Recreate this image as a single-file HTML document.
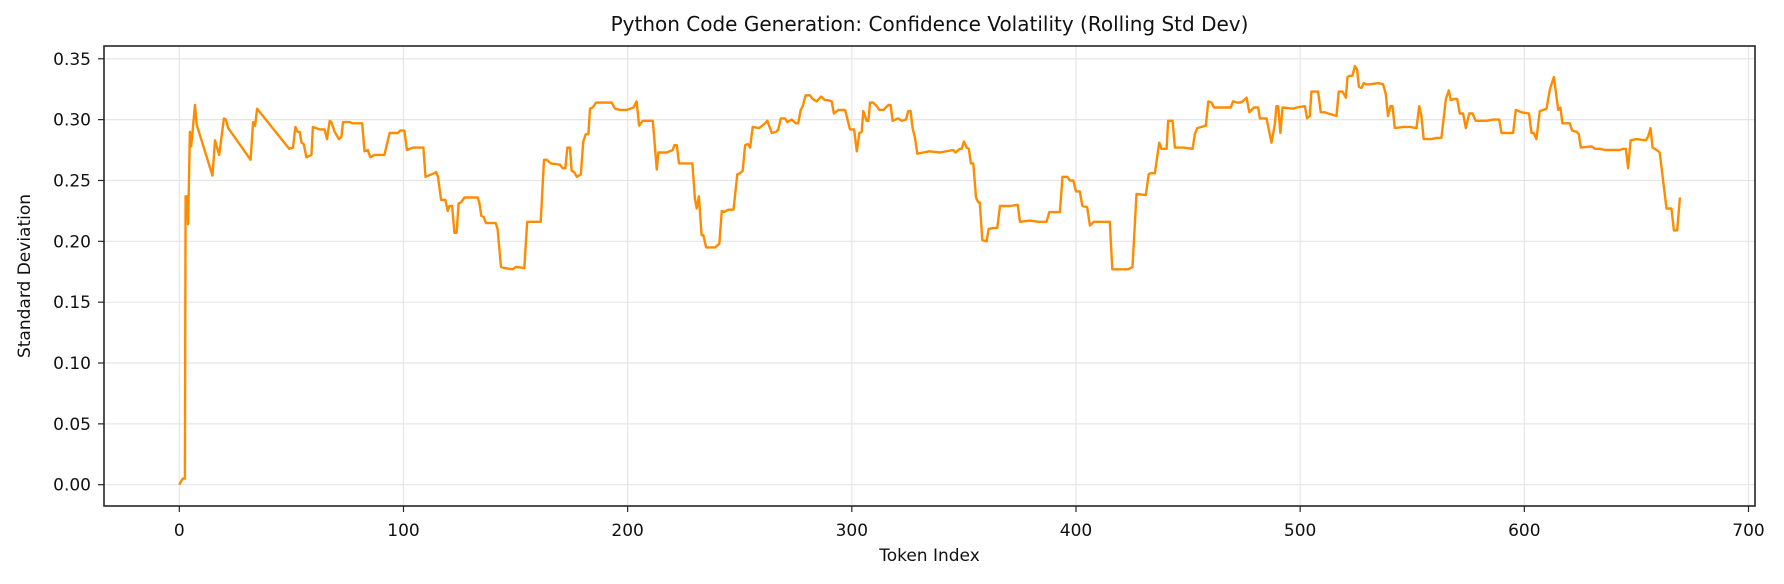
<!DOCTYPE html>
<html><head><meta charset="utf-8">
<style>
html,body{margin:0;padding:0;background:#fff;}
svg{display:block;font-family:"DejaVu Sans","Liberation Sans",sans-serif;}
</style></head>
<body>
<svg id="chart" width="1784" height="584" viewBox="0 0 1784 584" xmlns="http://www.w3.org/2000/svg">
<rect width="1784" height="584" fill="#fff"/>
<g id="grid"></g>
<g id="series"></g>
<rect x="104" y="46" width="1651" height="460" fill="none" stroke="#262626" stroke-width="1.6"/>
<g id="ticks"></g>
<text x="929.5" y="31" text-anchor="middle" font-size="20" fill="#111">Python Code Generation: Confidence Volatility (Rolling Std Dev)</text>
<text x="929.5" y="561" text-anchor="middle" font-size="17" fill="#111">Token Index</text>
<text x="0" y="0" transform="translate(30,276) rotate(-90)" text-anchor="middle" font-size="17" fill="#111">Standard Deviation</text>
</svg>
<script>
const tokens = [0,1.5,2.5,2.8,3.6,3.9,4.7,5.3,5.9,7.0,7.7,14.8,15.9,17.8,19.9,20.8,21.8,31.8,32.9,33.8,34.7,49.0,50.7,51.8,52.7,53.7,54.5,55.5,56.7,58.9,59.6,62.6,64.8,65.9,67.1,67.8,69.3,71.2,72.3,73.0,76.0,77.2,81.6,82.6,84.1,85.2,87.1,91.5,93.8,97.5,98.5,100.4,101.5,104.2,108.9,109.8,113.8,114.5,115.4,116.8,118.7,119.7,120.5,121.7,122.7,123.7,124.6,125.6,127.2,133.1,133.8,134.7,135.8,136.8,141.2,142.0,143.5,145.0,148.7,150.2,153.9,155.2,157.2,161.2,162.7,163.9,165.7,169.8,171.0,172.2,173.1,174.3,175,176.1,177.3,179.1,180.2,181.3,182.5,183.2,184.4,185.9,187.7,192.9,194.4,196.6,199.6,202.6,204,205.1,206.7,208.5,211.2,213,213.7,217.4,220.1,220.8,221.9,222.9,228.9,230,230.8,231.8,233,233.8,235,239,240.9,242,243,244.9,247.2,248.9,250.1,251.3,252.4,253.6,254.6,255.8,258.7,261.3,262.3,264.3,266.2,267.2,268.3,270.2,271.2,273.2,275.1,276.1,277.2,278.1,279.4,281.3,282.5,284.3,286.3,288,289.5,291,292,294,297,299.2,301,302.2,303.4,304.4,305.1,306.6,307.4,308.1,309.6,311.1,312.3,314.1,316.3,317.3,318.2,320.7,322.2,324.1,325.2,326.2,327.1,328.2,329.2,331.9,334.5,339.3,345.2,346.3,348.2,349,350,351.2,352.2,353.1,354.2,355.4,356.4,357.1,358.2,360.1,361,363.1,364.9,366.1,368.3,370.5,374,375,379.4,383.2,386.9,388.1,392.8,394,396.1,397.3,398.8,400,401.7,402.8,405,406.2,408,410.7,415.1,416.2,423.3,425.2,427,431.2,432.4,433.3,435.2,437.1,438.2,440.4,441.1,443.1,444.1,447.8,452,453,454.1,456,457.9,459,460.5,461.5,462.4,469,470.1,471.9,473.1,474.3,476.1,477.3,479.4,481.3,482,485,487.2,488.7,489.4,490.2,491.2,492.1,496.9,498.4,502.1,503.1,504.3,505,508,509.2,511,512.5,516.2,517.2,518.9,520.4,521.1,522.1,523.3,524.4,525.4,526.2,527.3,528.4,529.3,531.1,534.8,537,538.2,539.2,540.3,541.2,542.2,545.9,548.9,551.9,553.1,554.1,555.1,558.6,560.8,563,565,566.3,567.2,568.7,570,571.2,572.7,573.9,575.4,576.9,578.3,583.1,586.1,588.8,589.8,592.8,595,596.2,598.7,602.1,603.2,604.2,605.4,606.9,609.9,611.4,613.2,615.1,616.1,617,620.3,621.3,623.3,624.3,625.2,630,631.5,633.7,635.9,642.6,644.1,645.3,646.3,647.4,650,654.2,655.2,656.3,657.2,659,660.4,663.4,665.6,666.7,668.2,669.4];
const stdValues = [0,0.005,0.005,0.237,0.237,0.214,0.290,0.278,0.290,0.312,0.296,0.254,0.283,0.271,0.301,0.300,0.293,0.267,0.298,0.295,0.309,0.276,0.277,0.294,0.290,0.290,0.281,0.280,0.269,0.271,0.294,0.292,0.292,0.284,0.299,0.298,0.290,0.284,0.286,0.298,0.298,0.297,0.297,0.274,0.275,0.269,0.271,0.271,0.289,0.289,0.291,0.291,0.275,0.277,0.277,0.253,0.256,0.257,0.253,0.234,0.234,0.225,0.229,0.229,0.207,0.207,0.231,0.232,0.236,0.236,0.232,0.221,0.220,0.215,0.215,0.210,0.179,0.178,0.177,0.179,0.178,0.216,0.216,0.216,0.267,0.267,0.264,0.263,0.260,0.260,0.277,0.277,0.258,0.257,0.253,0.255,0.282,0.288,0.288,0.309,0.310,0.314,0.314,0.314,0.309,0.308,0.308,0.310,0.315,0.295,0.299,0.299,0.299,0.259,0.273,0.273,0.275,0.279,0.279,0.264,0.264,0.235,0.227,0.237,0.205,0.205,0.195,0.195,0.198,0.225,0.224,0.226,0.226,0.255,0.256,0.258,0.279,0.280,0.277,0.294,0.293,0.297,0.299,0.289,0.290,0.292,0.301,0.301,0.298,0.300,0.297,0.297,0.308,0.311,0.320,0.320,0.317,0.315,0.319,0.316,0.316,0.315,0.305,0.308,0.308,0.292,0.292,0.274,0.289,0.290,0.307,0.299,0.299,0.314,0.314,0.311,0.308,0.308,0.312,0.312,0.299,0.301,0.299,0.300,0.307,0.307,0.293,0.285,0.272,0.273,0.274,0.273,0.275,0.273,0.276,0.276,0.282,0.277,0.276,0.264,0.264,0.236,0.232,0.232,0.201,0.200,0.210,0.211,0.211,0.229,0.229,0.229,0.230,0.216,0.217,0.216,0.216,0.224,0.224,0.253,0.253,0.250,0.250,0.241,0.241,0.229,0.228,0.213,0.216,0.216,0.216,0.177,0.177,0.179,0.239,0.238,0.255,0.256,0.256,0.281,0.276,0.276,0.299,0.299,0.277,0.277,0.276,0.288,0.293,0.294,0.295,0.315,0.314,0.310,0.310,0.310,0.315,0.314,0.314,0.315,0.318,0.306,0.310,0.310,0.301,0.301,0.281,0.296,0.311,0.311,0.289,0.310,0.309,0.310,0.311,0.301,0.303,0.323,0.323,0.306,0.306,0.305,0.303,0.323,0.323,0.318,0.335,0.336,0.336,0.344,0.341,0.327,0.326,0.330,0.329,0.329,0.330,0.329,0.321,0.303,0.311,0.311,0.293,0.294,0.294,0.293,0.311,0.303,0.284,0.284,0.285,0.285,0.317,0.324,0.316,0.317,0.317,0.305,0.305,0.293,0.305,0.305,0.299,0.299,0.300,0.300,0.289,0.289,0.289,0.308,0.306,0.305,0.289,0.289,0.284,0.307,0.309,0.325,0.335,0.308,0.310,0.297,0.297,0.291,0.290,0.288,0.277,0.278,0.276,0.276,0.275,0.275,0.276,0.276,0.260,0.283,0.284,0.283,0.286,0.293,0.277,0.275,0.273,0.227,0.227,0.209,0.209,0.236];
const xTicks = [0,100,200,300,400,500,600,700];
const yTicks = [0.00,0.05,0.10,0.15,0.20,0.25,0.30,0.35];
const yTickLabels = ["0.00","0.05","0.10","0.15","0.20","0.25","0.30","0.35"];

const NS = "http://www.w3.org/2000/svg";
const L = 104, R = 1755, T = 46, B = 506;
const xMin = -33.6, xMax = 702.9, yMin = -0.0175, yMax = 0.3605;
function xs(v){ return L + (v - xMin) / (xMax - xMin) * (R - L); }
function ys(v){ return B - (v - yMin) / (yMax - yMin) * (B - T); }
function mk(tag, attrs, parent){
  const e = document.createElementNS(NS, tag);
  for (const k in attrs) e.setAttribute(k, attrs[k]);
  parent.appendChild(e);
  return e;
}
const grid = document.getElementById('grid');
const ticks = document.getElementById('ticks');
xTicks.forEach(function(t){
  const x = xs(t);
  const g = mk('line', {x1:x, x2:x, y1:T, y2:B, stroke:'#e6e6e6', 'stroke-width':1.2}, grid);
  
  
  const tk = mk('line', {x1:x, x2:x, y1:B, y2:B+6, stroke:'#262626', 'stroke-width':1.2}, ticks);
  
  
  const lb = mk('text', {x:x, y:B+30, 'text-anchor':'middle', 'font-size':17, fill:'#111'}, ticks);
  
  
  lb.textContent = String(t);
});
yTicks.forEach(function(t, i){
  const y = ys(t);
  const g = mk('line', {x1:L, x2:R, y1:y, y2:y, stroke:'#e6e6e6', 'stroke-width':1.2}, grid);
  
  
  const tk = mk('line', {x1:L-6, x2:L, y1:y, y2:y, stroke:'#262626', 'stroke-width':1.2}, ticks);
  
  
  const lb = mk('text', {x:L-13, y:y+6, 'text-anchor':'end', 'font-size':17, fill:'#111'}, ticks);
  
  
  lb.textContent = yTickLabels[i];
});
const n = Math.min(tokens.length, stdValues.length);
const pts = [];
for (let i = 0; i < n; i++) pts.push(xs(tokens[i]).toFixed(1) + ',' + ys(stdValues[i]).toFixed(1));
const line = mk('polyline', {points:pts.join(' '), fill:'none', stroke:'#ff8c00', 'stroke-width':2.4, 'stroke-linejoin':'round'}, document.getElementById('series'));


</script>
</body></html>
